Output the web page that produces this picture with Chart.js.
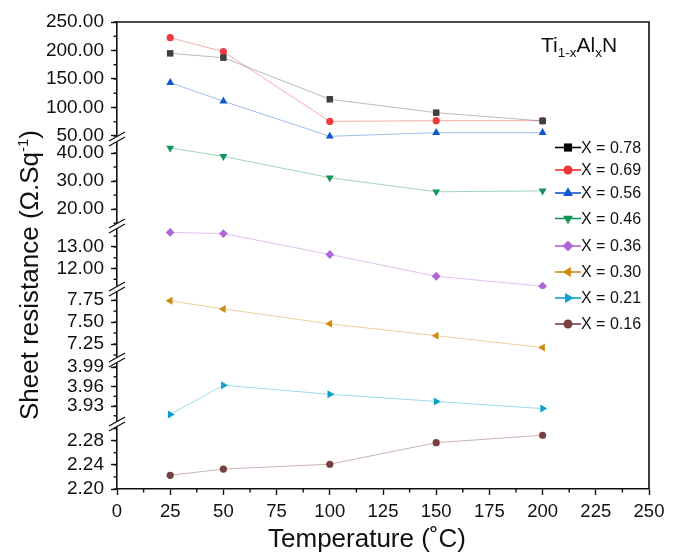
<!DOCTYPE html>
<html>
<head>
<meta charset="utf-8">
<script src="https://cdn.jsdelivr.net/npm/chart.js@4.4.0/dist/chart.umd.min.js"></script>
<style>
  body { margin: 0; background: #fff; }
</style>
</head>
<body>
<canvas id="resChart" width="680" height="555"></canvas>
<script>
// ====== DATA ======
const temps = [25, 50, 100, 150, 200];
const seriesLabels = ['X = 0.78', 'X = 0.69', 'X = 0.56', 'X = 0.46', 'X = 0.36', 'X = 0.30', 'X = 0.21', 'X = 0.16'];
const x078 = [195.0, 187.4, 114.4, 90.9, 76.3];
const x069 = [222.5, 197.9, 75.6, 76.8, 76.8];
const x056 = [143.5, 111.0, 49.4, 55.8, 55.8];
const x046 = [41.8, 38.8, 31.2, 26.2, 26.5];
const x036 = [13.67, 13.62, 12.65, 11.64, 11.18];
const x030 = [7.742, 7.65, 7.48, 7.345, 7.21];
const x021 = [3.917, 3.962, 3.948, 3.937, 3.926];
const x016 = [2.2227, 2.233, 2.241, 2.2767, 2.289];

// broken y axis: one segment per scale, top to bottom
const axisIds = ['y1', 'y2', 'y3', 'y4', 'y5', 'y6'];
const axisMin = [44.7, 14, 11.05, 7.068, 3.9023, 2.2];
const axisMax = [250, 45, 13.97, 7.877, 4.0008, 2.3076];
const axisStep = [50, 10, 1, 0.25, 0.03, 0.04];
const axisMinor = [25, 5, 0.5, 0.125, 0.015, 0.02];
const seriesAxis = ['y1', 'y1', 'y1', 'y2', 'y3', 'y4', 'y5', 'y6'];

// ====== STYLE ======
const FONT = "'Liberation Sans', Arial, sans-serif";
const segHeights = [117, 87, 63, 71, 64, 65];
const colors = ['#000000', '#ee3333', '#1158d0', '#13955a', '#b066d8', '#d08a10', '#0ea0c8', '#764040'];
const plotPointColors = ['#404040', '#ee3b3b', '#1158d0', '#13955a', '#b066d8', '#d08a10', '#0ea0c8', '#764040'];
const styles = ['rect', 'circle', 'triangle', 'triangle', 'rectRot', 'triangle', 'triangle', 'circle'];
const rotations = [0, 0, 0, 180, 0, 270, 90, 0];
const radii = [4.6, 3.6, 4.6, 4.6, 4.4, 4.6, 4.6, 3.6];

function fade(hex, a) {
  const n = parseInt(hex.slice(1), 16);
  return `rgba(${(n >> 16) & 255},${(n >> 8) & 255},${n & 255},${a})`;
}

const allSeries = [x078, x069, x056, x046, x036, x030, x021, x016];

const datasets = allSeries.map((vals, i) => ({
  label: seriesLabels[i],
  data: temps.map((t, k) => ({ x: t, y: vals[k] })),
  yAxisID: seriesAxis[i],
  borderColor: fade(colors[i] === '#000000' ? '#555555' : colors[i], 0.4),
  borderWidth: 1,
  pointStyle: styles[i],
  rotation: rotations[i],
  pointRadius: radii[i],
  pointBackgroundColor: plotPointColors[i],
  pointBorderWidth: 0,
  tension: 0
}));

// ====== SCALES ======
const scales = {
  x: {
    type: 'linear',
    min: 0, max: 250,
    border: { color: '#111', width: 1.6 },
    grid: { drawOnChartArea: false, tickLength: 6, tickColor: '#111', tickWidth: 1.4 },
    ticks: { stepSize: 25, color: '#111', font: { family: FONT, size: 18.5 }, padding: 6, maxRotation: 0, autoSkip: false },
    afterFit: s => { s.height = 66; }
  }
};
// bottom segment first so the top segment is stacked last (on top)
for (let i = axisIds.length - 1; i >= 0; i--) {
  scales[axisIds[i]] = {
    type: 'linear',
    position: 'left',
    stack: 'res',
    stackWeight: segHeights[i],
    min: axisMin[i], max: axisMax[i],
    border: { color: '#111', width: 1.6 },
    grid: { drawOnChartArea: false, tickLength: 6, tickColor: '#111', tickWidth: 1.4 },
    ticks: {
      stepSize: axisStep[i], includeBounds: false, autoSkip: false,
      color: '#111', font: { family: FONT, size: 19 }, padding: 7,
      callback: v => Number(v).toFixed(2)
    },
    afterFit: s => { s.width = 117; }
  };
}

// ====== EXTRAS: minor ticks, breaks, frame, titles, legend ======
const extrasPlugin = {
  id: 'extras',
  afterDraw(chart) {
    const ctx = chart.ctx;
    const area = chart.chartArea;
    ctx.save();
    ctx.strokeStyle = '#111';
    ctx.lineWidth = 1.4;

    // minor ticks
    axisIds.forEach((id, i) => {
      const s = chart.scales[id];
      const st = axisMinor[i];
      for (let k = Math.ceil(axisMin[i] / st - 1e-9); k * st <= axisMax[i] + 1e-9; k++) {
        const py = s.getPixelForValue(k * st);
        ctx.beginPath(); ctx.moveTo(area.left - 3.5, py); ctx.lineTo(area.left, py); ctx.stroke();
      }
    });
    const xs = chart.scales.x;
    for (let v = 12.5; v < 250; v += 25) {
      const px = xs.getPixelForValue(v);
      ctx.beginPath(); ctx.moveTo(px, area.bottom); ctx.lineTo(px, area.bottom + 3.5); ctx.stroke();
    }

    // frame top and right
    ctx.lineWidth = 1.6;
    ctx.beginPath();
    ctx.moveTo(area.left, area.top); ctx.lineTo(area.right, area.top); ctx.lineTo(area.right, area.bottom);
    ctx.stroke();

    // axis breaks
    axisIds.slice(1).forEach(id => {
      const y = chart.scales[id].top;
      const L = area.left;
      ctx.fillStyle = '#fff';
      ctx.beginPath();
      ctx.moveTo(L - 8, y + 2); ctx.lineTo(L + 8, y - 7); ctx.lineTo(L + 8, y - 2); ctx.lineTo(L - 8, y + 7);
      ctx.closePath(); ctx.fill();
      ctx.lineWidth = 1.3;
      ctx.beginPath(); ctx.moveTo(L - 8, y + 2); ctx.lineTo(L + 8, y - 7); ctx.stroke();
      ctx.beginPath(); ctx.moveTo(L - 8, y + 7); ctx.lineTo(L + 8, y - 2); ctx.stroke();
    });

    // axis titles
    ctx.fillStyle = '#111';
    ctx.textBaseline = 'alphabetic';
    ctx.font = `26px ${FONT}`;
    ctx.textAlign = 'center';
    ctx.fillText('Temperature (\u02DAC)', 367, 547);

    ctx.save();
    ctx.translate(38, 275);
    ctx.rotate(-Math.PI / 2);
    const p1 = 'Sheet resistance (\u03A9.Sq', p2 = '-1', p3 = ')';
    ctx.font = `26px ${FONT}`;
    const w1 = ctx.measureText(p1).width, w3 = ctx.measureText(p3).width;
    ctx.font = `15px ${FONT}`;
    const w2 = ctx.measureText(p2).width;
    let tx = -(w1 + w2 + w3) / 2;
    ctx.textAlign = 'left';
    ctx.font = `26px ${FONT}`;
    ctx.fillText(p1, tx, 0); tx += w1;
    ctx.font = `15px ${FONT}`;
    ctx.fillText(p2, tx, -10); tx += w2;
    ctx.font = `26px ${FONT}`;
    ctx.fillText(p3, tx, 0);
    ctx.restore();

    // compound label
    const parts = [['Ti', 21, 0], ['1-x', 13.5, 5], ['Al', 21, 0], ['x', 13.5, 5], ['N', 21, 0]];
    let ax = 541;
    ctx.textAlign = 'left';
    parts.forEach(([t, size, dy]) => {
      ctx.font = `${size}px ${FONT}`;
      ctx.fillText(t, ax, 52 + dy);
      ax += ctx.measureText(t).width;
    });

    // legend
    const rowY = [147.5, 170, 193, 218.5, 246, 272, 298, 324];
    chart.data.datasets.forEach((ds, i) => {
      const y = rowY[i];
      ctx.strokeStyle = colors[i];
      ctx.lineWidth = 1.6;
      ctx.beginPath(); ctx.moveTo(555, y); ctx.lineTo(581, y); ctx.stroke();
      ctx.fillStyle = colors[i];
      Chart.helpers.drawPoint(ctx, { pointStyle: styles[i], radius: radii[i] * 1.25, rotation: rotations[i], borderWidth: 0 }, 568, y);
      ctx.fillStyle = '#111';
      ctx.font = `16px ${FONT}`;
      ctx.textBaseline = 'middle';
      ctx.fillText(ds.label, 581, y + 1);
      ctx.textBaseline = 'alphabetic';
    });
    ctx.restore();
  }
};

new Chart(document.getElementById('resChart').getContext('2d'), {
  type: 'line',
  data: { datasets },
  options: {
    responsive: false,
    animation: false,
    layout: { padding: { top: 22, right: 31, left: 0, bottom: 0 } },
    plugins: { legend: { display: false }, tooltip: { enabled: false } },
    scales
  },
  plugins: [extrasPlugin]
});
</script>
</body>
</html>
